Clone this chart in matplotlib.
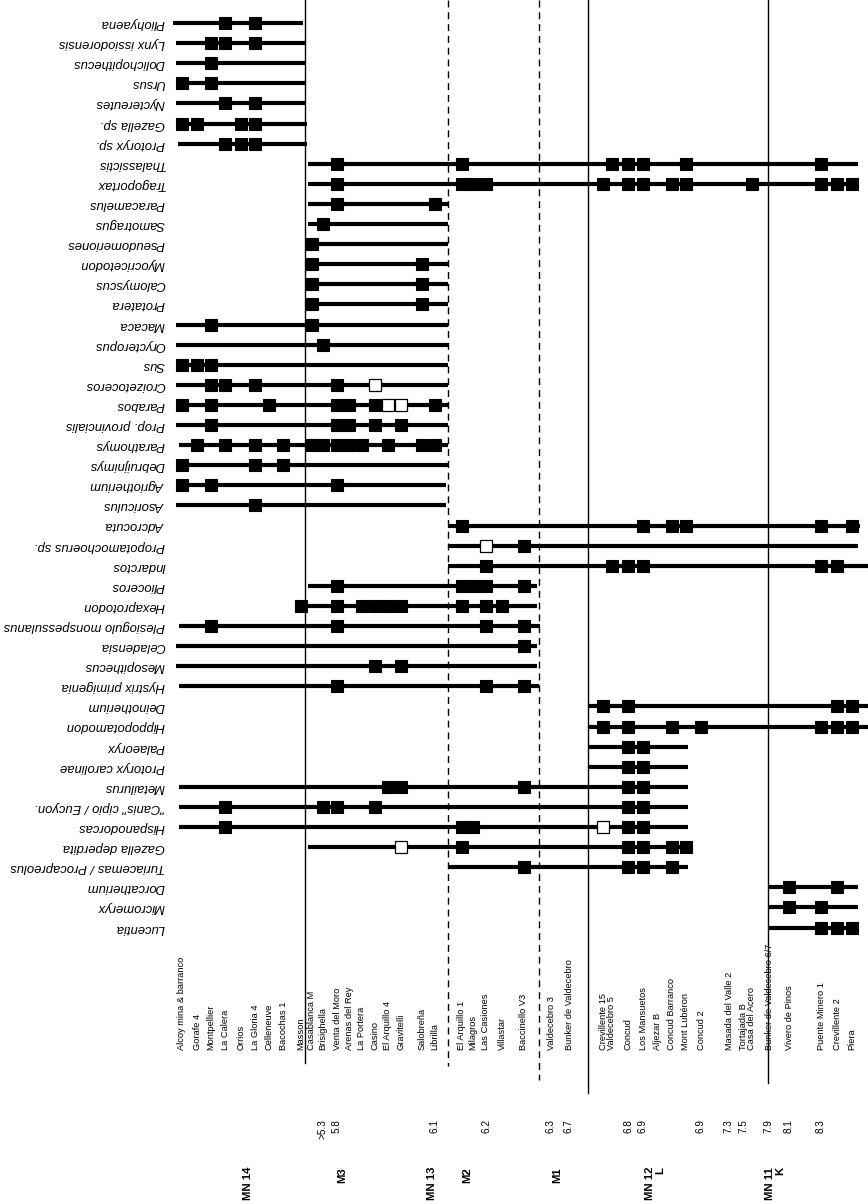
import numpy as np
import matplotlib.pyplot as plt

plt.rcParams['font.family'] = ['Liberation Sans', 'DejaVu Sans']

# localities (left to right) and their position along the chart
localities = ["Alcoy mina & barranco", "Gorafe 4", "Montpellier", "La Calera", "Orrios",
              "La Gloria 4", "Celleneuve", "Bacochas 1", "Masson", "Casablanca M",
              "Brisighella", "Venta del Moro", "Arenas del Rey", "La Portera", "Casino",
              "El Arquillo 4", "Gravitelli", "Salobreña", "Librilla", "El Arquillo 1",
              "Milagros", "Las Casiones", "Villastar", "Baccinello V3", "Valdecebro 3",
              "Bunker de Valdecebro", "Crevillente 15", "Valdecebro 5", "Concud",
              "Los Mansuetos", "Aljezar B", "Concud Barranco", "Mont Lubéron", "Concud 2",
              "Masada del Valle 2", "Tortajada B", "Casa del Acero",
              "Bunker de Valdecebro 6/7", "Vivero de Pinos", "Puente Minero 1",
              "Crevillente 2", "Piera"]
loc_x = [182, 197, 211, 225, 241, 255, 269, 283, 301, 312,
         323, 337, 349, 362, 375, 388, 401, 422, 435, 462,
         473, 486, 502, 524, 551, 569, 603, 612, 628, 643,
         657, 672, 686, 701, 729, 744, 752, 769, 789, 821,
         837, 852]

# ages (Ma) written next to some localities
age_loc = [10, 11, 18, 21, 24, 25, 28, 29, 33, 34, 35, 37, 38, 39]
age_txt = [">5.3", "5.8", "6.1", "6.2", "6.3", "6.7", "6.8", "6.9", "6.9",
           "7.3", "7.5", "7.9", "8.1", "8.3"]

# biozones
zone_txt = ["MN 14", "M3", "MN 13", "M2", "M1", "MN 12\nL", "MN 11\nK"]
zone_x = [248, 342, 432, 467, 557, 655, 775]

# zone boundaries: position, style, lower end (pixel row)
bound_x = [305, 448, 539, 588, 768]
bound_ls = ['-', '--', '--', '-', '-']
bound_end = [1063, 1066, 1080, 1093, 1083]

taxa = ["Pliohyaena", "Lynx issiodorensis", "Dolichopithecus", "Ursus", "Nyctereutes",
        "Gazella sp.", "Protoryx sp.", "Thalassictis", "Tragoportax", "Paracamelus",
        "Samotragus", "Pseudomeriones", "Myocricetodon", "Calomyscus", "Protatera",
        "Macaca", "Orycteropus", "Sus", "Croizetoceros", "Parabos",
        "Prop. provincialis", "Parathomys", "Debruijnimys", "Agriotherium", "Asoriculus",
        "Adcrocuta", "Propotamochoerus sp.", "Indarctos", "Plioceros", "Hexaprotodon",
        "Plesiogulo monspessulanus", "Celadensia", "Mesopithecus", "Hystrix primigenia",
        "Deinotherium", "Hippopotamodon", "Palaeoryx", "Protoryx carolinae", "Metailurus",
        "\"Canis\" cipio / Eucyon.", "Hispanodorcas", "Gazella deperdita",
        "Turiacemas / Procapreolus", "Dorcatherium", "Micromeryx", "Lucentia"]

range_start = [173, 176, 176, 176, 176, 176, 178, 308, 308, 308,
               308, 308, 308, 308, 308, 176, 176, 176, 176, 176,
               176, 179, 182, 176, 176, 448, 448, 448, 308, 302,
               179, 176, 176, 179, 588, 588, 588, 588, 179, 179,
               179, 308, 448, 768, 768, 768]
range_end = [303, 305, 305, 305, 305, 307, 307, 858, 859, 448,
             448, 448, 448, 448, 448, 448, 448, 448, 448, 448,
             448, 448, 448, 446, 446, 860, 858, 868, 537, 537,
             540, 537, 537, 539, 868, 868, 688, 688, 688, 688,
             688, 691, 688, 858, 858, 858]

# records per taxon (indices into localities)
filled = [[3, 5], [2, 3, 5], [2], [0, 2], [3, 5],
          [0, 1, 4, 5], [3, 4, 5], [11, 19, 27, 28, 29, 32, 39],
          [11, 19, 20, 21, 26, 28, 29, 31, 32, 36, 39, 40, 41], [11, 18],
          [10], [9], [9, 17], [9, 17], [9, 17],
          [2, 9], [10], [0, 1, 2], [2, 3, 5, 11], [0, 2, 6, 11, 12, 14, 18],
          [2, 11, 12, 14, 16], [1, 3, 5, 7, 9, 10, 11, 12, 13, 15, 17, 18], [0, 5, 7], [0, 2, 11], [5],
          [19, 29, 31, 32, 39, 41], [23], [21, 27, 28, 29, 39, 40], [11, 19, 20, 21, 23],
          [8, 11, 13, 14, 15, 16, 19, 21, 22],
          [2, 11, 21, 23], [23], [14, 16], [11, 21, 23],
          [26, 28, 40, 41], [26, 28, 31, 33, 39, 40, 41], [28, 29], [28, 29], [15, 16, 23, 28, 29],
          [3, 10, 11, 14, 28, 29], [3, 19, 20, 28, 29], [19, 28, 29, 31, 32],
          [23, 28, 29, 31], [38, 40], [38, 39], [39, 40, 41]]
opened = {18: [14], 19: [15, 16], 26: [21], 40: [26], 41: [16]}

fig = plt.figure(figsize=(8.68, 12.04), dpi=100)
ax = fig.add_axes([0, 0, 1, 1])
ax.set_xlim(0, 868)
ax.set_ylim(1204, 0)
ax.axis('off')

row_y = 23 + 20.1 * np.arange(len(taxa))

for x, ls, y1 in zip(bound_x, bound_ls, bound_end):
    ax.plot([x, x], [0, y1], color='black', lw=1.0, ls=ls,
            dashes=(5, 3.5) if ls == '--' else (None, None), zorder=1)

for i, name in enumerate(taxa):
    y = row_y[i]
    ax.plot([range_start[i], range_end[i]], [y, y], color='black', lw=3.0,
            solid_capstyle='butt', zorder=2)
    xs = [loc_x[k] for k in filled[i]]
    ax.plot(xs, [y] * len(xs), ls='none', marker='s', ms=8.6, mfc='black',
            mec='black', mew=0.8, zorder=3)
    if i in opened:
        xs = [loc_x[k] for k in opened[i]]
        ax.plot(xs, [y] * len(xs), ls='none', marker='s', ms=8.2, mfc='white',
                mec='black', mew=0.9, zorder=4)
    ax.text(165, y, name, rotation=180, ha='right', va='center',
            fontsize=9.35, style='italic')

for name, x in zip(localities, loc_x):
    ax.text(x, 1050, name, rotation=90, ha='center', va='bottom', fontsize=6.7)

for k, t in zip(age_loc, age_txt):
    ax.text(loc_x[k], 1119, t, rotation=90, ha='center', va='top', fontsize=7.2)

for t, x in zip(zone_txt, zone_x):
    ax.text(x, 1167, t, rotation=90, ha='center', va='top', fontsize=8.2,
            fontweight='bold', multialignment='right', linespacing=1.0)

fig.savefig('out.png', dpi=100)
